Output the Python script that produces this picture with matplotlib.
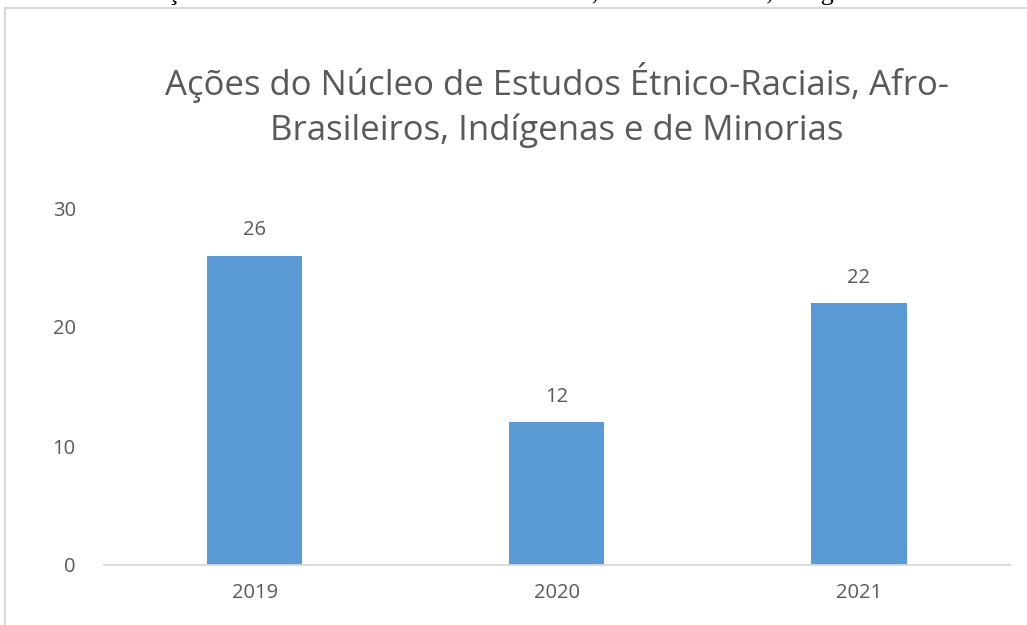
#!/usr/bin/env python3
# plot.py - acoes do nucleo de estudos, bar chart

import matplotlib.pyplot as plt
from matplotlib.patches import Rectangle

years = ["2019", "2020", "2021"]
acoes = [26, 12, 22]
y_ticks = [0, 10, 20, 30]

title = "Ações do Núcleo de Estudos Étnico-Raciais, Afro-\nBrasileiros, Indígenas e de Minorias"
caption = ("Gráfico 1 – Ações do núcleo de estudos étnico-raciais, "
           "afro-brasileiros, indígenas e de minorias")

W, H = 1027, 625
grey = "#595959"
bar_blue = "#5b9bd5"


def plot(fig, ax):
    x = range(len(years))
    ax.bar(x, acoes, width=0.315, color=bar_blue)

    # value labels over the bars
    for xi, v in zip(x, acoes):
        ax.annotate(str(v), (xi, v), xytext=(0, 11), textcoords="offset points",
                    ha="center", va="bottom", fontsize=14.5, color=grey)

    ax.set_xlim(-0.5, 2.5)
    ax.set_ylim(0, 30)
    ax.set_xticks(list(x))
    ax.set_xticklabels(years)
    ax.set_yticks(y_ticks)
    ax.tick_params(axis="both", length=0, labelsize=14.5, colors=grey)
    ax.tick_params(axis="y", pad=20)
    ax.tick_params(axis="x", pad=13)

    for side in ["top", "right", "left"]:
        ax.spines[side].set_visible(False)
    ax.spines["bottom"].set_color("#d9d9d9")
    ax.spines["bottom"].set_linewidth(1.3)

    fig.text(557 / W, 1 - 105 / H, title, ha="center", va="center",
             fontsize=25, color=grey, linespacing=1.4)


def main():
    plt.rcParams["font.family"] = ["Open Sans", "DejaVu Sans"]
    fig = plt.figure(figsize=(W / 100, H / 100), dpi=100)

    # chart frame, runs off the right and bottom edge of the picture
    fig.patches.append(Rectangle((5 / W, -0.1), 1.1, 1.1 - 8 / H,
                                 transform=fig.transFigure, fill=False,
                                 edgecolor="#d9d9d9", linewidth=1.5))

    # caption above the chart, only its lowest part is inside the picture
    fig.text(23 / W, 1.0, caption, ha="left", va="baseline",
             fontsize=19, family="Liberation Serif", color="black")

    ax = fig.add_axes([103.5 / W, 1 - 565 / H, (1010 - 103.5) / W, (565 - 208) / H])
    plot(fig, ax)

    fig.savefig("out.png", dpi=100)


if __name__ == "__main__":
    main()
